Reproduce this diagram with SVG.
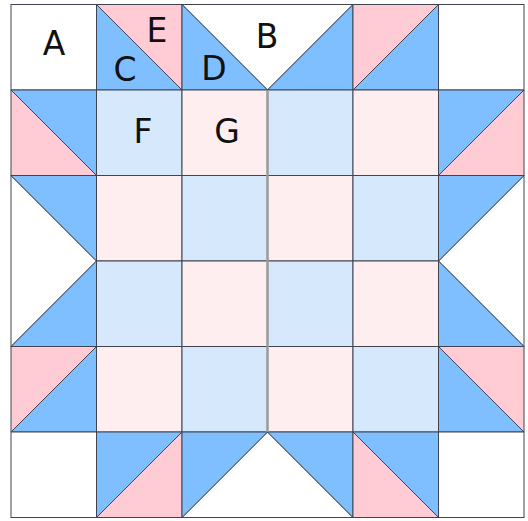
<svg xmlns="http://www.w3.org/2000/svg" width="528" height="521" viewBox="0 0 528 521">
<style>
.b{fill:#80bfff}.p{fill:#ffccd5}.w{fill:#ffffff}.lb{fill:#d5e8fc}.lp{fill:#ffeef0}
.t{stroke:#3f4450;stroke-width:1}
.lbl{font-family:"DejaVu Sans",sans-serif;font-size:33px;fill:#111;text-anchor:middle}
</style>
<rect x="0" y="0" width="528" height="521" fill="#fff"/>
<g id="row0">
<rect class="t w" x="11" y="4.5" width="85.5" height="85.5"/>
<polygon class="t p" points="96.5,4.5 182,4.5 182,90"/>
<polygon class="t b" points="96.5,4.5 182,90 96.5,90"/>
<polygon class="t w" points="182,4.5 353,4.5 267.5,90"/>
<polygon class="t b" points="182,4.5 267.5,90 182,90"/>
<polygon class="t b" points="353,4.5 353,90 267.5,90"/>
<polygon class="t p" points="353,4.5 438.5,4.5 353,90"/>
<polygon class="t b" points="438.5,4.5 438.5,90 353,90"/>
<rect class="t w" x="438.5" y="4.5" width="85.5" height="85.5"/>
</g>
<g id="row1">
<polygon class="t b" points="11,90 96.5,90 96.5,175.5"/>
<polygon class="t p" points="11,90 96.5,175.5 11,175.5"/>
<rect class="t lb" x="96.5" y="90" width="85.5" height="85.5"/>
<rect class="t lp" x="182" y="90" width="85.5" height="85.5"/>
<rect class="t lb" x="267.5" y="90" width="85.5" height="85.5"/>
<rect class="t lp" x="353" y="90" width="85.5" height="85.5"/>
<polygon class="t b" points="438.5,90 524,90 438.5,175.5"/>
<polygon class="t p" points="524,90 524,175.5 438.5,175.5"/>
</g>
<g id="row2-3">
<polygon class="t w" points="11,175.5 96.5,261 11,346.5"/>
<polygon class="t b" points="11,175.5 96.5,175.5 96.5,261"/>
<polygon class="t b" points="96.5,261 96.5,346.5 11,346.5"/>
<rect class="t lp" x="96.5" y="175.5" width="85.5" height="85.5"/>
<rect class="t lb" x="182" y="175.5" width="85.5" height="85.5"/>
<rect class="t lp" x="267.5" y="175.5" width="85.5" height="85.5"/>
<rect class="t lb" x="353" y="175.5" width="85.5" height="85.5"/>
<rect class="t lb" x="96.5" y="261" width="85.5" height="85.5"/>
<rect class="t lp" x="182" y="261" width="85.5" height="85.5"/>
<rect class="t lb" x="267.5" y="261" width="85.5" height="85.5"/>
<rect class="t lp" x="353" y="261" width="85.5" height="85.5"/>
<polygon class="t w" points="524,175.5 524,346.5 438.5,261"/>
<polygon class="t b" points="438.5,175.5 524,175.5 438.5,261"/>
<polygon class="t b" points="438.5,261 524,346.5 438.5,346.5"/>
</g>
<g id="row4">
<polygon class="t p" points="11,346.5 96.5,346.5 11,432"/>
<polygon class="t b" points="96.5,346.5 96.5,432 11,432"/>
<rect class="t lp" x="96.5" y="346.5" width="85.5" height="85.5"/>
<rect class="t lb" x="182" y="346.5" width="85.5" height="85.5"/>
<rect class="t lp" x="267.5" y="346.5" width="85.5" height="85.5"/>
<rect class="t lb" x="353" y="346.5" width="85.5" height="85.5"/>
<polygon class="t p" points="438.5,346.5 524,346.5 524,432"/>
<polygon class="t b" points="438.5,346.5 524,432 438.5,432"/>
</g>
<g id="row5">
<rect class="t w" x="11" y="432" width="85.5" height="85.5"/>
<polygon class="t b" points="96.5,432 182,432 96.5,517.5"/>
<polygon class="t p" points="182,432 182,517.5 96.5,517.5"/>
<polygon class="t w" points="267.5,432 353,517.5 182,517.5"/>
<polygon class="t b" points="182,432 267.5,432 182,517.5"/>
<polygon class="t b" points="267.5,432 353,432 353,517.5"/>
<polygon class="t b" points="353,432 438.5,432 438.5,517.5"/>
<polygon class="t p" points="353,432 438.5,517.5 353,517.5"/>
<rect class="t w" x="438.5" y="432" width="85.5" height="85.5"/>
</g>
<g id="connectors">
<line x1="267.5" y1="90" x2="267.5" y2="432" stroke="#9a9a9a" stroke-width="2.5"/>
</g>
<g id="labels">
<text class="lbl" x="54" y="55">A</text>
<text class="lbl" x="157" y="42">E</text>
<text class="lbl" x="125" y="81">C</text>
<text class="lbl" x="214" y="80">D</text>
<text class="lbl" x="267" y="48">B</text>
<text class="lbl" x="143" y="143">F</text>
<text class="lbl" x="227" y="143">G</text>
</g>
</svg>
